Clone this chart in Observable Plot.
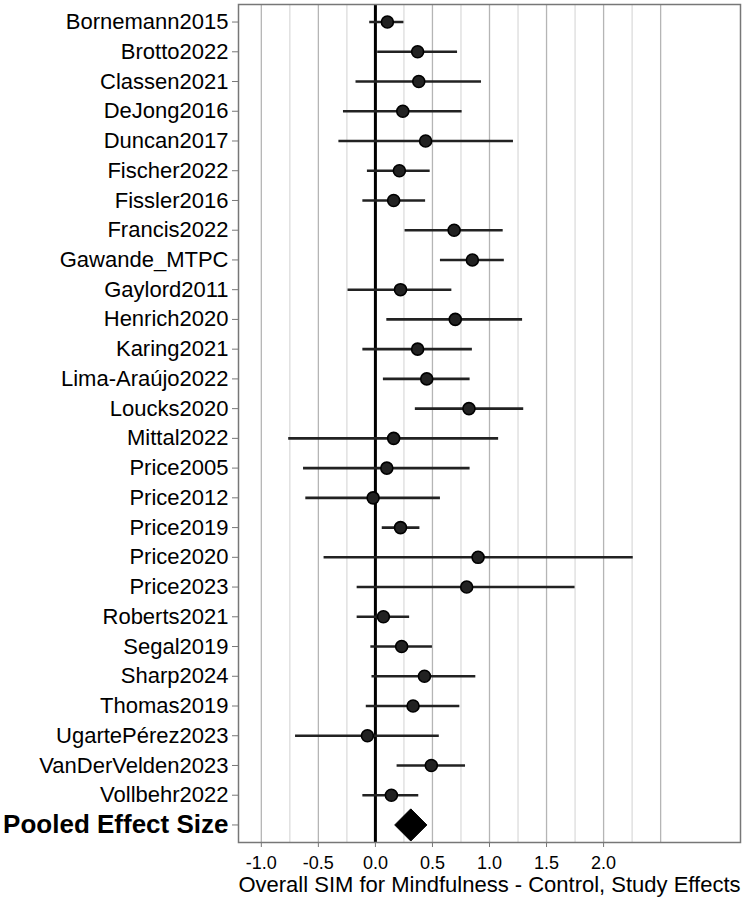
<!DOCTYPE html>
<html><head><meta charset="utf-8">
<script src="https://cdn.jsdelivr.net/npm/d3@7"></script>
<script src="https://cdn.jsdelivr.net/npm/@observablehq/plot@0.6"></script>
<style>body{margin:0;background:#fff} svg{display:block}</style>
</head><body><div id="chart"></div>
<script>
const studies = ["Bornemann2015","Brotto2022","Classen2021","DeJong2016","Duncan2017","Fischer2022","Fissler2016","Francis2022","Gawande_MTPC","Gaylord2011","Henrich2020","Karing2021","Lima-Araújo2022","Loucks2020","Mittal2022","Price2005","Price2012","Price2019","Price2020","Price2023","Roberts2021","Segal2019","Sharp2024","Thomas2019","UgartePérez2023","VanDerVelden2023","Vollbehr2022"];
const estimates = [0.105,0.37,0.38,0.24,0.44,0.21,0.16,0.69,0.85,0.22,0.70,0.37,0.45,0.82,0.16,0.10,-0.02,0.22,0.90,0.80,0.07,0.23,0.43,0.33,-0.07,0.49,0.14];
const lower = [-0.05,0.02,-0.17,-0.28,-0.32,-0.07,-0.11,0.26,0.57,-0.24,0.10,-0.11,0.07,0.35,-0.76,-0.63,-0.61,0.06,-0.45,-0.16,-0.16,-0.04,-0.03,-0.08,-0.70,0.19,-0.11];
const upper = [0.25,0.72,0.93,0.76,1.21,0.48,0.44,1.12,1.13,0.67,1.29,0.85,0.83,1.30,1.08,0.83,0.57,0.39,2.26,1.75,0.30,0.50,0.88,0.74,0.56,0.79,0.38];
const pooledLabel = "Pooled Effect Size";
const pooledEstimate = 0.31;
const majorGrid = [-1,-0.5,0,0.5,1,1.5,2,2.5];
const minorGrid = [-0.75,-0.25,0.25,0.75,1.25,1.75,2.25];
const xTicks = [-1,-0.5,0,0.5,1,1.5,2];
const xLabel = "Overall SIM for Mindfulness - Control, Study Effects";

const rows = studies.map((s,i)=>({study:s, est:estimates[i], lo:lower[i], hi:upper[i]}));
const pooled = [{study:pooledLabel, est:pooledEstimate}];
const order = [...studies, pooledLabel];

const plot = Plot.plot({
  width:745, height:899, marginLeft:238, marginRight:5, marginTop:4, marginBottom:57,
  style:{fontFamily:"'Liberation Sans', Arial, sans-serif", background:"#fff", color:"#000"},
  x:{domain:[-1.2,3.2]},
  y:{type:"point", domain:order, padding:0.59, round:false},
  marks:[
    Plot.ruleX(minorGrid,{stroke:"#dcdcdc", strokeWidth:1.3}),
    Plot.ruleX(majorGrid,{stroke:"#b5b5b5", strokeWidth:1.3}),
    Plot.ruleX([0],{stroke:"#000", strokeWidth:3}),
    Plot.ruleY(rows,{y:"study", x1:"lo", x2:"hi", stroke:"#222", strokeWidth:2.6}),
    Plot.dot(rows,{y:"study", x:"est", r:6, fill:"#222", stroke:"#000", strokeWidth:1.6}),
    Plot.dot(pooled,{x:"est", y:"study", symbol:"diamond2", r:14.5, fill:"#000", stroke:"#000", strokeWidth:1}),
    Plot.frame({stroke:"#777", strokeWidth:1.5}),
    Plot.axisX({ticks:xTicks, tickFormat:d=>d.toFixed(1), tickSize:5, tickPadding:9, fontSize:18, label:null, stroke:"#777"}),
    Plot.text([xLabel],{text:d=>d, frameAnchor:"bottom", lineAnchor:"middle", dy:42, fontSize:22, fill:"#000"}),
    Plot.axisY({ticks:studies, tickSize:6, tickPadding:4, fontSize:22, label:null, stroke:"#777"}),
    Plot.axisY({ticks:[pooledLabel], tickSize:6, tickPadding:4, fontSize:26, fontWeight:"bold", label:null, stroke:"#777"})
  ]
});
document.getElementById("chart").appendChild(plot);
</script>
</body></html>
